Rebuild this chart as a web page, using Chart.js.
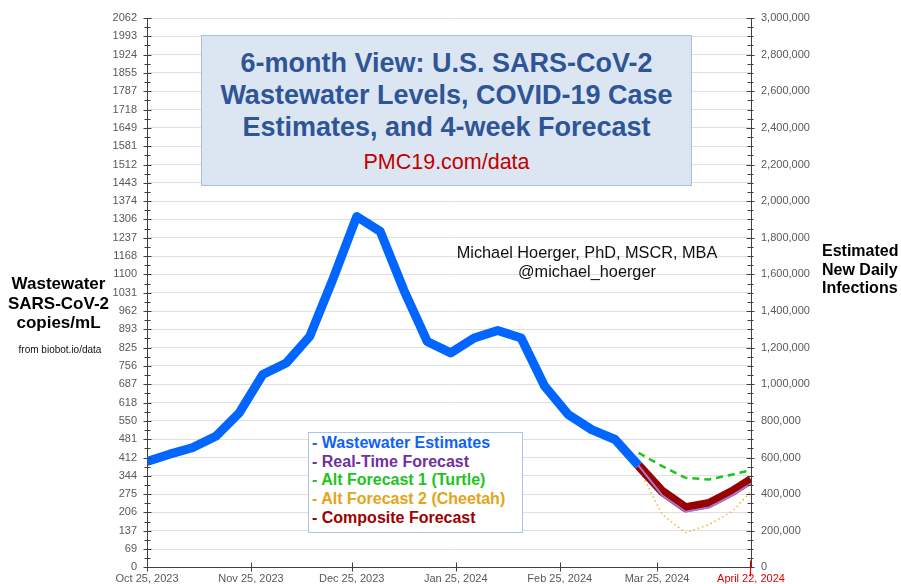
<!DOCTYPE html>
<html><head><meta charset="utf-8">
<script src="https://cdn.jsdelivr.net/npm/chart.js@4.4.1/dist/chart.umd.min.js"></script>
<style>
html,body{margin:0;padding:0;background:#fff;}
#wrap{position:relative;width:901px;height:584px;overflow:hidden;font-family:"Liberation Sans",Arial,sans-serif;}
#c{position:absolute;left:0;top:0;}
.ov{position:absolute;white-space:nowrap;}
#titlebox{left:201px;top:35px;width:489px;height:149px;background:#dce6f2;border:1px solid #a7c0e2;text-align:center;}
#titlebox .t{font-weight:bold;font-size:27px;color:#2f5597;line-height:32px;}
#titlebox .u{font-size:21.5px;color:#c00000;line-height:24px;margin-top:7px;}
.axt{font-weight:bold;font-size:17px;color:#000;line-height:19.5px;}
#legend{left:308px;top:432px;width:215px;height:101px;background:#fff;border:1px solid #aac4ea;box-sizing:border-box;padding:1px 0 0 3px;}
#legend div{font-weight:bold;font-size:16px;line-height:18.7px;}
</style></head>
<body><div id="wrap">
<canvas id="c" width="901" height="584"></canvas>
<div id="titlebox" class="ov">
  <div class="t" style="margin-top:11px">6-month View: U.S. SARS-CoV-2</div>
  <div class="t">Wastewater Levels, COVID-19 Case</div>
  <div class="t">Estimates, and 4-week Forecast</div>
  <div class="u">PMC19.com/data</div>
</div>
<div class="ov" style="left:437px;top:243px;width:300px;text-align:center;font-size:16.3px;line-height:19px;color:#111;">Michael Hoerger, PhD, MSCR, MBA<br>@michael_hoerger</div>
<div class="ov axt" style="left:0;top:274px;width:117px;text-align:center;">Wastewater<br>SARS-CoV-2<br>copies/mL</div>
<div class="ov" style="left:0;top:344px;width:120px;text-align:center;font-size:10px;color:#111;">from biobot.io/data</div>
<div class="ov axt" style="left:822px;top:242px;text-align:left;font-size:16px;line-height:18.5px;">Estimated<br>New Daily<br>Infections</div>
<div id="legend" class="ov">
  <div style="color:#0f62f5">- Wastewater Estimates</div>
  <div style="color:#7030a0">- Real-Time Forecast</div>
  <div style="color:#1ec41e">- Alt Forecast 1 (Turtle)</div>
  <div style="color:#e3a516">- Alt Forecast 2 (Cheetah)</div>
  <div style="color:#a00000">- Composite Forecast</div>
</div>
</div>
<script>
// ---- data (days since Oct 25, 2023) ----
const xTickDays = [0, 31, 61, 92, 123, 152, 180];
const xTickLabels = ["Oct 25, 2023", "Nov 25, 2023", "Dec 25, 2023", "Jan 25, 2024", "Feb 25, 2024", "Mar 25, 2024", "April 22, 2024"];
const leftTickLabels = ["0","69","137","206","275","344","412","481","550","618","687","756","825","893","962","1031","1100","1168","1237","1306","1374","1443","1512","1581","1649","1718","1787","1855","1924","1993","2062"];
const leftMax = 2062;
const rightMax = 3000000;
const rightStep = 200000;

const wwDays = [0, 6.5, 13.5, 20.5, 27.5, 34.5, 41.5, 48.5, 55.5, 62.5, 69.5, 76.5, 83.5, 90.5, 97.5, 104.5, 111.5, 118.5, 125.5, 132.5, 139.5, 146.5];
const wwValues = [398, 424, 449, 492, 580, 724, 767, 867, 1085, 1317, 1261, 1042, 848, 805, 861, 889, 861, 680, 574, 517, 480, 382];

const fcDays = [146.5, 153.5, 160.5, 167.5, 174.5, 180];
const compositeValues = [382, 286, 224, 240, 286, 330];
const realtimeValues = [382, 271, 209, 225, 271, 315];
const turtleValues = [430, 380, 336, 330, 349, 365];
const cheetahValues = [372, 199, 130, 161, 211, 286];

const pts = (xs, ys) => xs.map((d, i) => ({x: d, y: ys[i]}));

Chart.defaults.font.family = '"Liberation Sans", Arial, sans-serif';
Chart.defaults.font.size = 11;

const AXIS = '#404040';

const tickMarks = {
  id: 'tickMarks',
  afterDatasetsDraw(chart) {
    const {ctx, chartArea, scales} = chart;
    const y = scales.y, y2 = scales.y2, x = scales.x;
    ctx.save();
    ctx.lineWidth = 1;
    ctx.strokeStyle = AXIS;
    const lx = Math.round(chartArea.left) + 0.5;
    const rx = Math.round(chartArea.right) - 0.5;
    const by = Math.round(chartArea.bottom) - 0.5;
    const n = leftTickLabels.length - 1;
    ctx.beginPath();
    for (let i = 0; i <= n; i++) {
      const p = Math.round(y.getPixelForValue(i * leftMax / n)) + 0.5;
      ctx.moveTo(lx - 4, p); ctx.lineTo(lx + 4, p);
      if (i < n) {
        const m = Math.round(y.getPixelForValue((i + 0.5) * leftMax / n)) + 0.5;
        ctx.moveTo(lx - 3, m); ctx.lineTo(lx + 3, m);
      }
    }
    for (let v = 0; v <= rightMax; v += rightStep / 4) {
      const p = Math.round(y2.getPixelForValue(v)) + 0.5;
      const L = (v % rightStep === 0) ? 4 : 3;
      ctx.moveTo(rx - L, p); ctx.lineTo(rx + L, p);
    }
    for (let i = 0; i < xTickDays.length - 1; i++) {
      const p = Math.round(x.getPixelForValue(xTickDays[i])) + 0.5;
      ctx.moveTo(p, by - 4); ctx.lineTo(p, by + 5);
    }
    ctx.stroke();
    ctx.strokeStyle = '#e00000';
    ctx.lineWidth = 1.2;
    ctx.beginPath();
    const lp = Math.round(x.getPixelForValue(xTickDays[xTickDays.length - 1])) - 0.5;
    ctx.moveTo(lp, by - 6); ctx.lineTo(lp, by + 10);
    ctx.stroke();
    ctx.restore();
  }
};

new Chart(document.getElementById('c'), {
  type: 'line',
  data: {
    datasets: [
      {label: 'Real-Time Forecast', data: pts(fcDays, realtimeValues), borderColor: '#a277d6', borderWidth: 2, pointRadius: 0, yAxisID: 'y', order: 0},
      {label: 'Composite Forecast', data: pts(fcDays, compositeValues), borderColor: '#990000', borderWidth: 9, pointRadius: 0, yAxisID: 'y', order: 1, borderJoinStyle: 'round'},
      {label: 'Alt Forecast 1 (Turtle)', data: pts(fcDays, turtleValues), borderColor: '#1ec41e', borderWidth: 2.5, borderDash: [7, 5], pointRadius: 0, yAxisID: 'y', order: 2},
      {label: 'Alt Forecast 2 (Cheetah)', data: pts(fcDays, cheetahValues), borderColor: '#f0b040', borderWidth: 1.5, borderDash: [1.5, 3], pointRadius: 0, yAxisID: 'y', order: 3},
      {label: 'Wastewater Estimates', data: pts(wwDays, wwValues), borderColor: '#0066ff', borderWidth: 9, pointRadius: 0, yAxisID: 'y', order: 4, borderJoinStyle: 'round'}
    ]
  },
  options: {
    responsive: false,
    animation: false,
    layout: {padding: {top: 18, left: 0, right: 0, bottom: 0}},
    plugins: {legend: {display: false}, tooltip: {enabled: false}, title: {display: false}},
    scales: {
      x: {
        type: 'linear', min: 0, max: 180,
        grid: {display: false, drawTicks: false},
        border: {display: true, color: AXIS, width: 1},
        afterBuildTicks: s => { s.ticks = xTickDays.map(v => ({value: v})); },
        afterFit: s => { s.height = 16; },
        ticks: {
          autoSkip: false, maxRotation: 0, padding: 5,
          callback: (v, i) => xTickLabels[i],
          color: c => c.index === xTickLabels.length - 1 ? '#e00000' : '#595959'
        }
      },
      y: {
        position: 'left', min: 0, max: leftMax,
        grid: {color: '#e0e0e0', lineWidth: 1, drawTicks: false},
        border: {display: true, color: AXIS, width: 1},
        afterBuildTicks: s => { s.ticks = leftTickLabels.map((_, i) => ({value: i * leftMax / (leftTickLabels.length - 1)})); },
        afterFit: s => { s.width = 147; },
        ticks: {padding: 10, color: '#595959', callback: (v, i) => leftTickLabels[i]}
      },
      y2: {
        position: 'right', min: 0, max: rightMax,
        grid: {drawOnChartArea: false, drawTicks: false},
        border: {display: true, color: AXIS, width: 1},
        afterFit: s => { s.width = 150; },
        ticks: {stepSize: rightStep, padding: 10, color: '#595959', callback: v => v.toLocaleString('en-US')}
      }
    }
  },
  plugins: [tickMarks]
});
</script>
</body></html>
